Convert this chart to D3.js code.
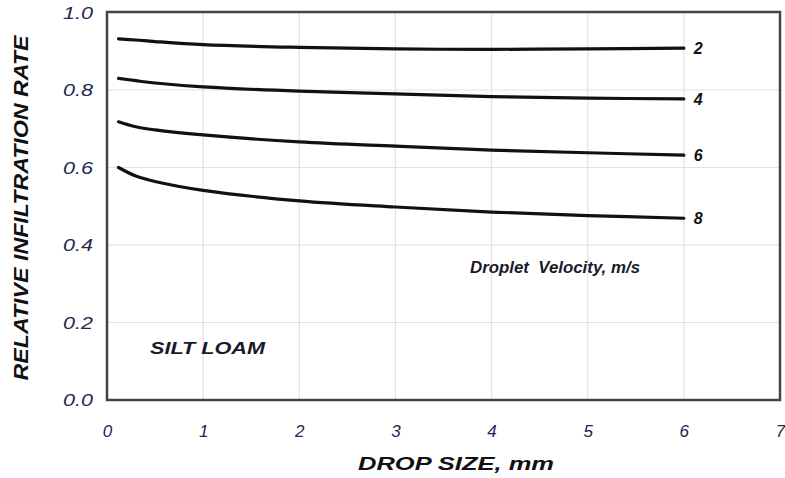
<!DOCTYPE html>
<html>
<head>
<meta charset="utf-8">
<script src="https://cdn.jsdelivr.net/npm/d3@7"></script>
<style>
  body { margin: 0; background: #fff; }
  text { font-family: "Liberation Sans", Arial, sans-serif; }
</style>
</head>
<body>
<div id="canvas"></div>
<script>
// drop size (mm) where each curve was read
var dropSize = [0.12, 0.3, 0.5, 1, 2, 3, 4, 5, 6];
// relative infiltration rate, one array per droplet velocity (m/s)
var vel2 = [0.932, 0.929, 0.925, 0.917, 0.910, 0.906, 0.905, 0.906, 0.908];
var vel4 = [0.830, 0.824, 0.818, 0.808, 0.797, 0.790, 0.783, 0.779, 0.777];
var vel6 = [0.718, 0.705, 0.697, 0.684, 0.666, 0.655, 0.645, 0.638, 0.632];
var vel8 = [0.600, 0.578, 0.564, 0.541, 0.514, 0.498, 0.485, 0.476, 0.469];
var velocities = ["2", "4", "6", "8"];
var xTicks = [0, 1, 2, 3, 4, 5, 6, 7];
var yTicks = [0, 0.2, 0.4, 0.6, 0.8, 1.0];

var width = 785, height = 478;
var plotLeft = 107, plotRight = 780, plotTop = 12, plotBottom = 400;

var svg = d3.select("#canvas").append("svg")
    .attr("width", width)
    .attr("height", height);

var x = d3.scaleLinear().domain([0, 7]).range([plotLeft, plotRight]);
var y = d3.scaleLinear().domain([0, 1]).range([plotBottom, plotTop + 0.5]);

// grid
var grid = svg.append("g");
grid.selectAll(".gx").data(xTicks.slice(1, -1)).enter().append("line")
    .attr("x1", function (d) { return x(d) }).attr("x2", function (d) { return x(d) })
    .attr("y1", plotTop).attr("y2", plotBottom)
    .style("stroke", "#e2e2e2").style("stroke-width", 1.2);
grid.selectAll(".gy").data(yTicks.slice(1, -1)).enter().append("line")
    .attr("y1", function (d) { return y(d) }).attr("y2", function (d) { return y(d) })
    .attr("x1", plotLeft).attr("x2", plotRight)
    .style("stroke", "#e2e2e2").style("stroke-width", 1.2);

// frame
svg.append("rect")
    .attr("x", plotLeft).attr("y", plotTop)
    .attr("width", plotRight - plotLeft).attr("height", plotBottom - plotTop)
    .style("fill", "none").style("stroke", "#444").style("stroke-width", 2.5);

// axes (labels only)
var xAxis = svg.append("g")
    .attr("transform", "translate(0," + (plotBottom + 34) + ")")
    .call(d3.axisBottom(x).tickValues(xTicks).tickFormat(d3.format("d")).tickSize(0));
var yAxis = svg.append("g")
    .attr("transform", "translate(" + (plotLeft - 11) + ",0)")
    .call(d3.axisLeft(y).tickValues(yTicks).tickFormat(d3.format(".1f")).tickSize(0));
[xAxis, yAxis].forEach(function (a) {
    a.select(".domain").remove();
    a.selectAll("text")
        .style("font-size", "17px")
        .style("font-style", "italic")
        .style("fill", "#22284f");
});
xAxis.selectAll("text").attr("dy", "0");
yAxis.selectAll("text").attr("dy", "0.35em")
    .attr("textLength", 30).attr("lengthAdjust", "spacingAndGlyphs");

// curves
var series = [vel2, vel4, vel6, vel8];
var line = d3.line()
    .x(function (d, i) { return x(dropSize[i]) })
    .y(function (d) { return y(d) })
    .curve(d3.curveCatmullRom.alpha(0.5));

svg.append("g").selectAll("path").data(series).enter().append("path")
    .attr("d", line)
    .style("fill", "none")
    .style("stroke", "#111")
    .style("stroke-width", 3.2)
    .style("stroke-linecap", "round");

svg.append("g").selectAll("text").data(series).enter().append("text")
    .attr("x", x(dropSize[dropSize.length - 1]) + 10)
    .attr("y", function (d) { return y(d[d.length - 1]) })
    .attr("dy", "0.38em")
    .style("font-size", "16px")
    .style("font-weight", "bold")
    .style("font-style", "italic")
    .style("fill", "#111")
    .text(function (d, i) { return velocities[i] });

// annotations
svg.append("text")
    .attr("x", 470).attr("y", 273)
    .attr("textLength", 170).attr("lengthAdjust", "spacingAndGlyphs")
    .style("font-size", "16px").style("font-weight", "bold").style("font-style", "italic")
    .style("fill", "#1a1a2a")
    .attr("xml:space", "preserve")
    .text("Droplet  Velocity, m/s");

svg.append("text")
    .attr("x", 150).attr("y", 354)
    .attr("textLength", 115).attr("lengthAdjust", "spacingAndGlyphs")
    .style("font-size", "16px").style("font-weight", "bold").style("font-style", "italic")
    .style("fill", "#1a1a2a")
    .text("SILT LOAM");

// axis titles
svg.append("text")
    .attr("x", 456).attr("y", 470)
    .attr("text-anchor", "middle")
    .attr("textLength", 196).attr("lengthAdjust", "spacingAndGlyphs")
    .style("font-size", "19px").style("font-weight", "bold").style("font-style", "italic")
    .style("fill", "#111")
    .text("DROP SIZE, mm");

svg.append("text")
    .attr("transform", "translate(28,208) rotate(-90)")
    .attr("text-anchor", "middle")
    .attr("textLength", 345).attr("lengthAdjust", "spacingAndGlyphs")
    .style("font-size", "20px").style("font-weight", "bold").style("font-style", "italic")
    .style("fill", "#111")
    .text("RELATIVE INFILTRATION RATE");
</script>
</body>
</html>
